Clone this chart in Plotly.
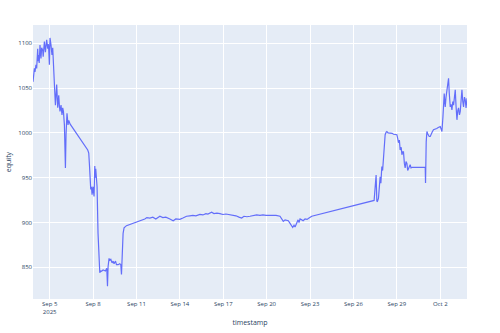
import pandas as pd
import plotly.graph_objects as go

# hours elapsed since 2025-09-05 00:00 for each equity sample
hours_from_sep5 = [
    -27.7, -26.6, -25.4, -24.4, -22.8, -21.6, -19.9, -19.1, -18.3, -17.4,
    -16.1, -14.5, -13.3, -11.6, -10.8, -8.8, -7.1, -6.1, -5.0, -3.3,
    -2.0, -0.5, 0.5, 2.2, 3.8, 5.0, 6.1, 7.8, 8.8, 9.5,
    10.5, 11.6, 13.3, 15.0, 16.1, 17.1, 18.8, 20.4, 21.6, 22.8,
    24.4, 26.1, 27.1, 28.7, 30.4, 31.6, 32.7, 33.7,
    63.1, 64.8, 66.0, 66.5, 67.3, 68.1, 69.3, 70.3, 71.9, 73.6,
    74.8, 75.6, 76.4, 77.6, 78.6, 80.2, 81.4, 83.1, 84.7, 85.9,
    88.6, 92.5, 94.7, 95.9, 96.9, 98.5, 99.7, 101.4, 103.5, 105.2,
    106.8, 109.2, 110.8, 113.5, 116.3, 118.0, 119.1, 120.1, 121.8, 123.4,
    127.4,
    157.8, 161.2, 166.2, 171.1, 176.1, 182.8, 187.7, 192.7, 199.4, 204.9,
    209.3, 216.0, 221.0, 227.1, 232.6, 237.6, 242.6, 249.2, 254.2, 259.2,
    262.5, 268.7, 272.5, 277.5, 282.5, 287.4, 292.4, 299.1, 304.1, 309.0,
    314.0, 318.5, 322.3, 327.3, 332.3, 337.3, 343.4, 348.9, 353.9, 358.9,
    365.5, 370.5, 375.5, 382.1, 385.5, 387.6, 390.5, 395.9, 398.8, 401.3,
    403.2, 405.4, 407.1, 409.9, 412.1, 413.7, 415.4, 418.2, 420.4, 423.7,
    427.0, 430.3, 434.8,
    538.3, 541.6, 542.8, 543.8, 545.5, 547.1, 548.3, 549.5, 551.1, 552.4,
    553.8, 555.3, 556.6, 558.3, 559.4, 561.6, 564.9, 568.2, 570.4, 573.2,
    576.0, 577.4, 578.7, 580.2, 581.5, 583.2, 584.4, 585.7, 587.0, 588.5,
    589.8, 591.2, 592.7, 594.0, 595.3, 596.8, 598.1, 599.5, 601.0,
    623.1, 623.6, 624.7, 625.9, 627.2, 628.5, 629.7, 631.4, 633.0, 634.7,
    636.8, 639.7, 642.2, 644.7, 648.0, 649.6, 650.8, 652.5, 653.5, 654.6,
    655.5, 656.3, 657.6, 659.1, 660.4, 661.8, 662.9, 664.6, 665.9, 667.4,
    668.8, 670.1, 671.6, 672.9, 674.2, 675.7, 677.1, 678.4, 679.9, 681.2,
    682.5, 684.0, 685.4, 686.7, 688.2, 689.5, 690.8, 692.4,
]

equity = [
    1057, 1066, 1072, 1068, 1076, 1072, 1094, 1080, 1087, 1078,
    1098, 1083, 1095, 1092, 1085, 1102, 1090, 1097, 1104, 1094,
    1099, 1076, 1106, 1098, 1087, 1095, 1072, 1054, 1040, 1031,
    1045, 1054, 1028, 1042, 1030, 1024, 1031, 1020, 1028, 1024,
    1009, 961, 998, 1022, 1009, 1014, 1012, 1010,
    981, 977.5, 964, 955, 945, 937, 940, 931, 940, 929,
    963, 950, 960, 944, 940, 888, 874, 844, 846, 845.7,
    847, 846, 849, 829, 851, 860, 858, 859, 855, 857,
    854, 857, 853, 853, 854, 853, 842, 873, 888, 894,
    896.5,
    904, 905.5, 905, 906, 904, 907, 905.5, 906, 904, 902,
    904, 903.5, 905, 907, 907.5, 908, 907.5, 909, 908.5, 910,
    909.5, 911.5, 910, 910.5, 910, 909, 909.5, 909, 908, 907.5,
    906, 905, 907, 906.5, 907, 907.5, 908.5, 908, 908.5, 908,
    908, 907.5, 908, 907, 904, 901.3, 903, 902, 899, 896,
    894.5, 897, 895, 899.6, 903, 900, 904, 903, 902, 904,
    903.5, 905, 907,
    924.7, 953, 924, 923.6, 927, 942, 951, 944, 962.6, 958,
    974, 985, 998, 1001, 1001.6, 1000, 999.8, 999.5, 998.5, 998,
    998, 994, 989, 992, 981, 984, 975.6, 979, 979, 966,
    961, 968, 966, 958, 959.7, 963, 964.5, 961, 961.5,
    961.5, 944, 990, 1001.6, 999, 998, 996, 996, 999, 1001,
    1003.5, 1004, 1005, 1006, 1007, 1004, 1001.6, 1018, 1030, 1044,
    1035, 1029, 1040, 1048, 1052, 1061, 1045, 1029, 1032, 1025.7,
    1035, 1031, 1040, 1048, 1030, 1014.6, 1025, 1028, 1020, 1024,
    1035, 1048, 1035, 1029, 1040, 1037, 1028, 1038.7,
]

timestamp = pd.Timestamp("2025-09-05") + pd.to_timedelta(hours_from_sep5, unit="h")

fig = go.Figure(
    go.Scatter(
        x=timestamp,
        y=equity,
        mode="lines",
        line=dict(color="#636efa", width=1.2),
    )
)

fig.update_layout(
    template="plotly",
    width=500,
    height=333,
    margin=dict(l=33, r=33, t=25, b=34, autoexpand=False),
    font=dict(family="Open Sans, Verdana, Arial, sans-serif", size=6, color="#2a3f5f"),
    showlegend=False,
)
fig.update_xaxes(
    automargin=False,
    title=dict(text="timestamp", font=dict(size=7), standoff=5),
    tick0="2025-09-02",
    dtick=3 * 86400000,
    tickfont=dict(size=6),
)
fig.update_yaxes(
    automargin=False,
    title=dict(text="equity", font=dict(size=7), standoff=5),
    range=[814.7, 1120.4],
    tick0=850,
    dtick=50,
    tickfont=dict(size=6),
)

fig.write_html("out.html")
